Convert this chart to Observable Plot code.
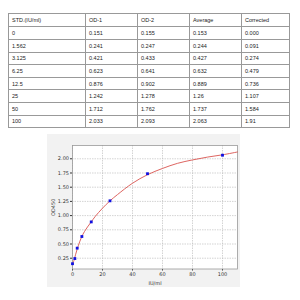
<!DOCTYPE html>
<html><head><meta charset="utf-8">
<script src="https://cdn.jsdelivr.net/npm/d3@7"></script>
<script src="https://cdn.jsdelivr.net/npm/@observablehq/plot@0.6"></script>
<style>
body{margin:0;background:#fff;width:300px;height:300px;overflow:hidden;position:relative;font-family:"Liberation Sans","DejaVu Sans",sans-serif;}
table{position:absolute;left:8px;top:13px;border-collapse:collapse;font-size:5.5px;color:#222;table-layout:fixed;}
td{border:0.8px solid #999;height:11.7px;padding:0 0 0 3px;vertical-align:middle;box-sizing:border-box;overflow:hidden;white-space:nowrap;}
#chart{position:absolute;left:47px;top:134px;}
</style></head><body>
<table id="tbl"></table>
<div id="chart"></div>
<script>
const headers = ["STD.(IU/ml)", "OD-1", "OD-2", "Average", "Corrected"];
const std = ["0", "1.562", "3.125", "6.25", "12.5", "25", "50", "100"];
const od1 = ["0.151", "0.241", "0.421", "0.623", "0.876", "1.242", "1.712", "2.033"];
const od2 = ["0.155", "0.247", "0.433", "0.641", "0.902", "1.278", "1.762", "2.093"];
const average = ["0.153", "0.244", "0.427", "0.632", "0.889", "1.26", "1.737", "2.063"];
const corrected = ["0.000", "0.091", "0.274", "0.479", "0.736", "1.107", "1.584", "1.91"];
const colWidths = [77, 52, 52, 52, 48];

// fitted curve
const curveX = [0, 1, 2, 3, 4, 6, 8, 10, 12.5, 15, 20, 25, 30, 40, 50, 60, 70, 80, 90, 100, 110];
const curveY = [0.15, 0.21, 0.31, 0.40, 0.48, 0.62, 0.72, 0.80, 0.89, 0.98, 1.13, 1.26, 1.37, 1.57, 1.72, 1.83, 1.92, 1.98, 2.03, 2.07, 2.12];

const xTicks = [0, 20, 40, 60, 80, 100];
const yTicks = [0.25, 0.5, 0.75, 1.0, 1.25, 1.5, 1.75, 2.0];

// table
const tbl = document.getElementById("tbl");
tbl.style.width = d3.sum(colWidths) + "px";
const cols = [std, od1, od2, average, corrected];
const hr = document.createElement("tr");
headers.forEach((h, i) => { const td = document.createElement("td"); td.textContent = h; td.style.width = colWidths[i] + "px"; td.style.height = "13.4px"; hr.appendChild(td); });
tbl.appendChild(hr);
for (let r = 0; r < std.length; r++) {
  const tr = document.createElement("tr");
  cols.forEach((c, i) => { const td = document.createElement("td"); td.textContent = c[r]; td.style.width = colWidths[i] + "px"; td.style.height = "12.6px"; tr.appendChild(td); });
  tbl.appendChild(tr);
}

const pts = std.map((s, i) => ({x: +s, y: +average[i]}));
const curve = curveX.map((x, i) => ({x, y: curveY[i]}));

const plot = Plot.plot({
  width: 193, height: 153,
  marginLeft: 25, marginTop: 11, marginRight: 3, marginBottom: 18.5,
  style: {background: "#f2f2f2", fontSize: "5px", fontFamily: "DejaVu Sans, sans-serif", color: "#333"},
  x: {domain: [0, 110], ticks: xTicks, tickSize: 2, tickPadding: 1.5, label: "IU/ml", labelAnchor: "center", labelArrow: "none", labelOffset: 16},
  y: {domain: [0.06, 2.234], ticks: yTicks, tickSize: 2, tickPadding: 1.5, tickFormat: d3.format(".2f"), label: "OD450", labelAnchor: "center", labelArrow: "none", labelOffset: 21},
  marks: [
    Plot.frame({fill: "#fff"}),
    Plot.gridX(xTicks, {stroke: "#bbb", strokeOpacity: 0.9, strokeDasharray: "1.5,1", strokeWidth: 0.7}),
    Plot.gridY(yTicks, {stroke: "#bbb", strokeOpacity: 0.9, strokeDasharray: "1.5,1", strokeWidth: 0.7}),
    Plot.frame({stroke: "#999", strokeWidth: 0.8}),
    Plot.line(curve, {x: "x", y: "y", stroke: "#d9534f", strokeWidth: 0.9, curve: "catmull-rom"}),
    Plot.dot(pts, {x: "x", y: "y", fill: "#1010e0", r: 1.6, symbol: "square"})
  ]
});
document.getElementById("chart").appendChild(plot);
</script>
</body></html>
